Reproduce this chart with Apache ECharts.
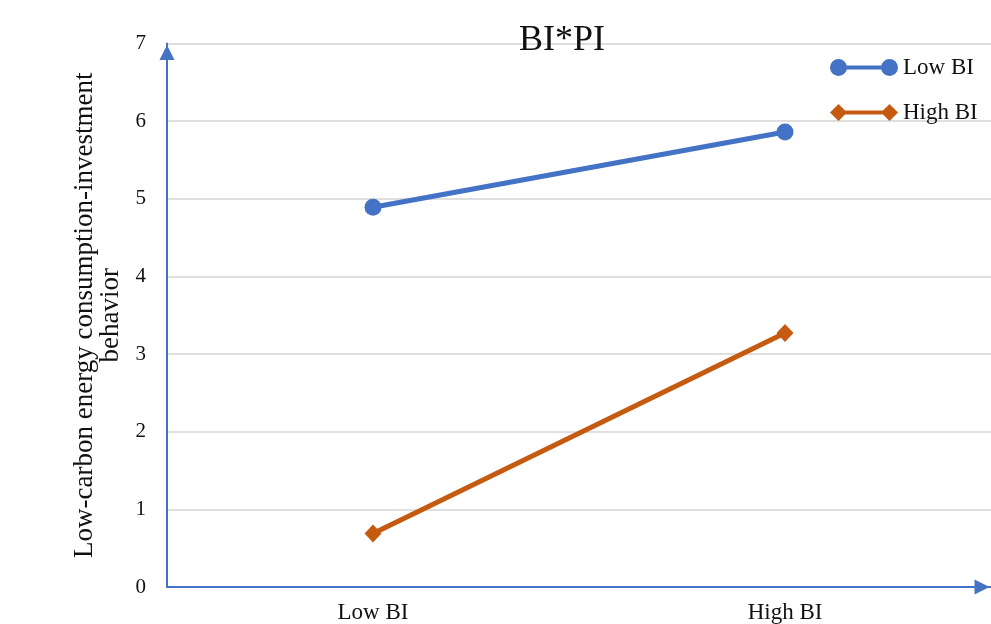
<!DOCTYPE html>
<html>
<head>
<meta charset="utf-8">
<script src="https://cdn.jsdelivr.net/npm/echarts@6/dist/echarts.min.js"></script>
<style>
html,body{margin:0;padding:0;background:#fff;overflow:hidden;}
#chart{width:991px;height:624px;}
</style>
</head>
<body>
<div id="chart"></div>
<script>
var categories = ['Low BI', 'High BI'];
var lowBI = [4.89, 5.86];
var highBI = [0.69, 3.27];
var seriesNames = ['Low BI', 'High BI'];
var titleText = 'BI*PI';
var yName = 'Low-carbon energy consumption-investment\nbehavior';
var yMin = 0, yMax = 7, yInterval = 1;

var serif = '"Liberation Serif", "Times New Roman", serif';
var blue = '#4472C4';
var orange = '#C55A11';
var axisColor = '#4472C4';

var circleIcon = 'path://M0,8.5A8.5,8.5,0,1,1,17,8.5A8.5,8.5,0,1,1,0,8.5Z M16,6.5L52,6.5L52,10.5L16,10.5Z M51,8.5A8.5,8.5,0,1,1,68,8.5A8.5,8.5,0,1,1,51,8.5Z';
var diamondIcon = 'path://M0,8.5L8.5,0L17,8.5L8.5,17Z M12,6.5L56,6.5L56,10.5L12,10.5Z M51,8.5L59.5,0L68,8.5L59.5,17Z';

var chart = echarts.init(document.getElementById('chart'), null, {renderer: 'canvas'});
chart.setOption({
  backgroundColor: '#fff',
  animation: false,
  title: {
    text: titleText,
    left: 519,
    top: 23,
    padding: 0,
    textStyle: {fontFamily: serif, fontSize: 36, fontWeight: 'normal', color: '#111'}
  },
  legend: {
    orient: 'vertical',
    left: 830,
    top: 56,
    itemWidth: 68,
    itemHeight: 17,
    itemGap: 22,
    padding: 0,
    textStyle: {fontFamily: serif, fontSize: 23, color: '#111'},
    data: [
      {name: seriesNames[0], icon: circleIcon},
      {name: seriesNames[1], icon: diamondIcon}
    ]
  },
  grid: {left: 167, right: -3, top: 43.5, height: 550, containLabel: false},
  xAxis: {
    type: 'category',
    data: categories,
    boundaryGap: true,
    axisLine: {show: true, lineStyle: {color: axisColor, width: 2}, symbol: ['none', 'triangle'], symbolSize: [15, 15], symbolOffset: [0, -9]},
    axisTick: {show: false},
    axisLabel: {fontFamily: serif, fontSize: 23, color: '#111', margin: 14},
    splitLine: {show: false}
  },
  yAxis: {
    type: 'value',
    min: yMin,
    max: yMax,
    interval: yInterval,
    name: yName,
    nameLocation: 'middle',
    nameRotate: 90,
    nameGap: 39,
    nameTextStyle: {fontFamily: serif, fontSize: 27, color: '#111', lineHeight: 26},
    axisLine: {show: true, lineStyle: {color: axisColor, width: 2}, symbol: ['none', 'triangle'], symbolSize: [15, 15], symbolOffset: [0, -9]},
    axisTick: {show: false},
    axisLabel: {fontFamily: serif, fontSize: 21, color: '#111', margin: 21},
    splitLine: {show: true, lineStyle: {color: '#D4D4D4', width: 1.5}}
  },
  series: [
    {
      name: seriesNames[0],
      type: 'line',
      data: lowBI,
      symbol: 'circle',
      symbolSize: 17,
      lineStyle: {color: blue, width: 5},
      itemStyle: {color: blue}
    },
    {
      name: seriesNames[1],
      type: 'line',
      data: highBI,
      symbol: 'diamond',
      symbolSize: [17, 18],
      lineStyle: {color: orange, width: 5},
      itemStyle: {color: orange}
    }
  ]
});
</script>
</body>
</html>
